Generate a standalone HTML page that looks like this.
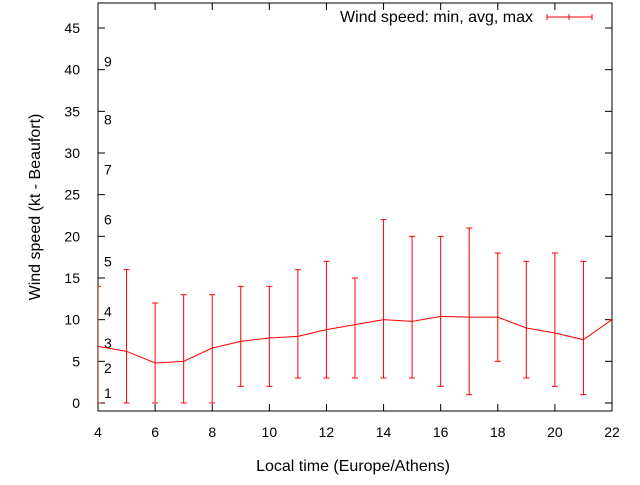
<!DOCTYPE html>
<html><head><meta charset="utf-8"><style>
body{margin:0;background:#fff;}
svg text{font-family:"Liberation Sans","DejaVu Sans",sans-serif;font-size:14px;fill:#000;}
svg text.big{font-size:16px;}
</style></head><body>
<svg width="640" height="480" id="c">
<g id="axes"></g>
<g id="marks"></g>
<text class="big" x="353" y="471" text-anchor="middle">Local time (Europe/Athens)</text>
<text class="big" transform="translate(40,207) rotate(-90)" text-anchor="middle">Wind speed (kt - Beaufort)</text>
<g>
<text class="big" x="533" y="22" text-anchor="end">Wind speed: min, avg, max</text>
<g stroke="#f00" stroke-width="1">
<line x1="547" y1="17" x2="592" y2="17"/><line x1="547" y1="14" x2="547" y2="20"/><line x1="569" y1="14" x2="569" y2="20"/><line x1="592" y1="14" x2="592" y2="20"/></g>
</g>
</svg>
<script>
const hours=[4,5,6,7,8,9,10,11,12,13,14,15,16,17,18,19,20,21,22];
const avgs=[6.8,6.2,4.8,5,6.6,7.4,7.8,8,8.8,9.4,10,9.8,10.4,10.3,10.3,9,8.4,7.6,10];
const mins=[0,0,0,0,0,2,2,3,3,3,3,3,2,1,5,3,2,1,10];
const maxs=[14,16,12,13,13,14,14,16,17,15,22,20,20,21,18,17,18,17,10];
const xTicks=[4,6,8,10,12,14,16,18,20,22];
const yTicks=[0,5,10,15,20,25,30,35,40,45];
const beaufort=["1","2","3","4","5","6","7","8","9"];
const beaufortKt=[1.2,4.2,7.2,11,17,22,28,34,41];
const L=98,R=612,T=3,B=411;
const X=v=>L+(v-4)*(R-L)/18;
const Y=v=>403-v*8.333;
const NS="http://www.w3.org/2000/svg";
function mk(p,t,a){const e=document.createElementNS(NS,t);for(const k in a)e.setAttribute(k,a[k]);p.appendChild(e);return e;}
const ax=document.getElementById('axes');
const frame=mk(ax,'rect',{x:L,y:T,width:R-L,height:B-T,fill:'none',stroke:'#000','stroke-width':1});


xTicks.forEach(v=>{
 const x=X(v);
 mk(ax,'line',{x1:x,y1:B,x2:x,y2:B-7,stroke:'#000'});
 mk(ax,'line',{x1:x,y1:T,x2:x,y2:T+7,stroke:'#000'});
 const t=mk(ax,'text',{x:x,y:B+26,'text-anchor':'middle'});t.textContent=v;
 
 
});
yTicks.forEach(v=>{
 const y=Y(v);
 mk(ax,'line',{x1:L,y1:y,x2:L+7,y2:y,stroke:'#000'});
 mk(ax,'line',{x1:R,y1:y,x2:R-7,y2:y,stroke:'#000'});
 const t=mk(ax,'text',{x:80,y:y+5,'text-anchor':'end'});t.textContent=v;
 
 
});
beaufort.forEach((s,i)=>{
 const t=mk(ax,'text',{x:104,y:Y(beaufortKt[i])+5});t.textContent=s;
 
 
});
const m=document.getElementById('marks');
const cp=mk(m,'clipPath',{id:'cl'});mk(cp,'rect',{x:L,y:T,width:R-L,height:B-T});
const g=mk(m,'g',{'clip-path':'url(#cl)',stroke:'#f00','stroke-width':1,fill:'none'});
const pl=mk(g,'polyline',{points:hours.map((h,i)=>X(h)+','+Y(avgs[i])).join(' ')});


hours.forEach((h,i)=>{
 const x=X(h),eg=mk(g,'g',{});
 
 
 mk(eg,'line',{x1:x,y1:Y(mins[i]),x2:x,y2:Y(maxs[i])});
 mk(eg,'line',{x1:x-3,y1:Y(mins[i]),x2:x+3,y2:Y(mins[i])});
 mk(eg,'line',{x1:x-3,y1:Y(maxs[i]),x2:x+3,y2:Y(maxs[i])});
});
</script>
</body></html>
